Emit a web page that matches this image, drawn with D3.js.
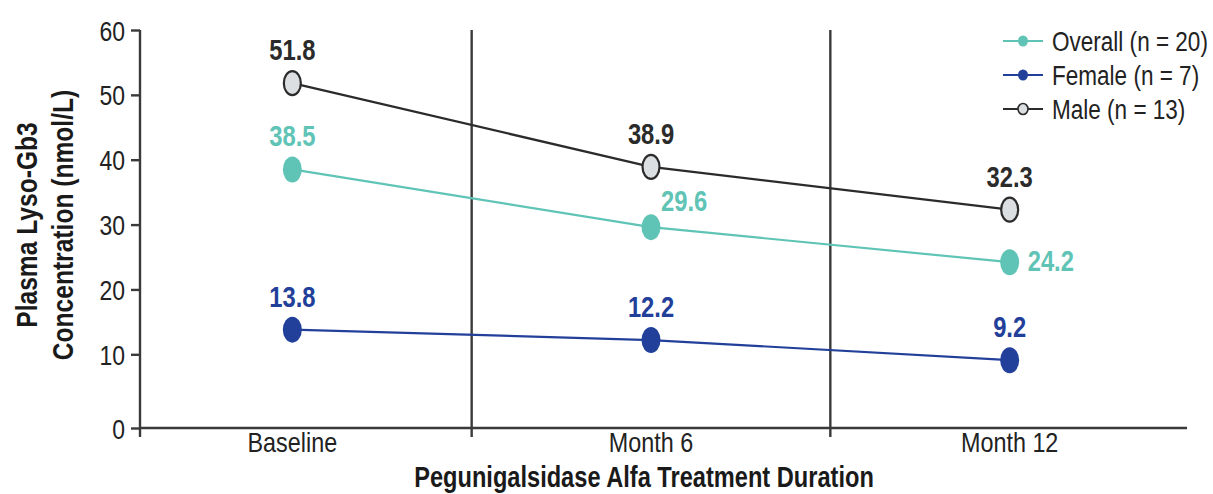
<!DOCTYPE html>
<html>
<head>
<meta charset="utf-8">
<script src="https://cdn.jsdelivr.net/npm/d3@7"></script>
<style>
  html, body { margin: 0; padding: 0; background: #fff; }
  svg { display: block; }
  text { font-family: "Liberation Sans", Arial, sans-serif; }
</style>
</head>
<body>
<svg id="chart" width="1213" height="494"></svg>
<script>
// Time points and plasma lyso-Gb3 means (nmol/L)
const categories = ["Baseline", "Month 6", "Month 12"];
const overallValues = [38.5, 29.6, 24.2];
const femaleValues = [13.8, 12.2, 9.2];
const maleValues = [51.8, 38.9, 32.3];
const seriesNames = ["Overall (n = 20)", "Female (n = 7)", "Male (n = 13)"];
const yTicks = [0, 10, 20, 30, 40, 50, 60];

const teal = "#5fc4b5";
const blue = "#22409a";
const dark = "#2b2b2b";

const series = [
  { name: seriesNames[0], values: overallValues, line: teal, fill: teal, stroke: "none", text: teal },
  { name: seriesNames[1], values: femaleValues, line: blue, fill: blue, stroke: "none", text: blue },
  { name: seriesNames[2], values: maleValues, line: dark, fill: "#dcdfe2", stroke: dark, text: dark }
];

// narrow-face look: squeeze each text horizontally around its anchor point
const NARROW = 0.82;
function condense(sel) {
  sel.each(function () {
    const t = d3.select(this);
    const tx = +t.attr("x") || 0, ty = +t.attr("y") || 0;
    const prev = t.attr("transform") || "";
    t.attr("x", 0).attr("y", 0)
      .attr("transform", `${prev} translate(${tx},${ty}) scale(${NARROW},1)`);
  });
}

const svg = d3.select("#chart");
const plotLeft = 140, plotRight = 1187, plotTop = 30, plotBottom = 428;

const x = d3.scalePoint().domain(categories).range([113, 1189]).padding(0.5);
// bottom segment of the value axis is stretched slightly below 10
const y = d3.scaleLinear().domain([0, 10, 60]).range([plotBottom, 354.3, plotTop]);

// vertical separators between time points
const mids = categories.slice(1).map((c, i) => (x(categories[i]) + x(c)) / 2);
svg.selectAll("line.sep").data(mids).join("line")
  .attr("class", "sep")
  .attr("x1", d => d).attr("x2", d => d)
  .attr("y1", plotTop).attr("y2", plotBottom + 9)
  .attr("stroke", "#3a3a3a").attr("stroke-width", 2.4);

// y axis
const yAxis = svg.append("g").attr("transform", `translate(${plotLeft},0)`)
  .call(d3.axisLeft(y).tickValues(yTicks).tickSize(9).tickPadding(6).tickFormat(d3.format("d")));
yAxis.select(".domain").remove();
yAxis.selectAll(".tick line").attr("stroke", "#3a3a3a").attr("stroke-width", 2.4);
yAxis.selectAll(".tick text").attr("fill", "#222").style("font-size", "28px")
  .attr("dy", null).attr("y", 10).call(condense);
svg.append("line").attr("x1", plotLeft).attr("x2", plotLeft).attr("y1", plotTop).attr("y2", plotBottom + 9)
  .attr("stroke", "#3a3a3a").attr("stroke-width", 2.4);

// x axis
svg.append("line").attr("x1", plotLeft).attr("x2", plotRight).attr("y1", plotBottom).attr("y2", plotBottom)
  .attr("stroke", "#3a3a3a").attr("stroke-width", 2.4);
svg.selectAll("text.xlab").data(categories).join("text")
  .attr("class", "xlab")
  .attr("x", d => x(d)).attr("y", plotBottom + 24)
  .attr("text-anchor", "middle").attr("fill", "#222")
  .style("font-size", "28.5px")
  .text(d => d)
  .call(condense);

// axis titles
svg.append("text")
  .attr("x", 644).attr("y", 487)
  .attr("text-anchor", "middle").attr("fill", "#1a1a1a")
  .style("font-size", "28.8px").style("font-weight", "bold")
  .text("Pegunigalsidase Alfa Treatment Duration")
  .call(condense);
const yt = svg.append("text")
  .attr("transform", `translate(36.5,225) rotate(-90) scale(${NARROW},1)`)
  .attr("text-anchor", "middle").attr("fill", "#1a1a1a")
  .style("font-size", "30px").style("font-weight", "bold");
yt.append("tspan").attr("x", 0).attr("dy", 0).text("Plasma Lyso-Gb3");
yt.append("tspan").attr("x", 0).attr("dy", 37).text("Concentration (nmol/L)");

// lines
const lineGen = d3.line().x((d, i) => x(categories[i])).y(d => y(d));
svg.selectAll("path.series").data(series).join("path")
  .attr("class", "series")
  .attr("d", s => lineGen(s.values))
  .attr("fill", "none")
  .attr("stroke", s => s.line)
  .attr("stroke-width", 2.2);

// markers
series.forEach(s => {
  svg.selectAll(null).data(s.values).join("ellipse")
    .attr("cx", (d, i) => x(categories[i])).attr("cy", d => y(d))
    .attr("rx", s.stroke === "none" ? 9.5 : 8.5)
    .attr("ry", s.stroke === "none" ? 13 : 12)
    .attr("fill", s.fill)
    .attr("stroke", s.stroke).attr("stroke-width", 2.2);
});

// value labels: centred above each marker, except where the Overall labels
// would collide with the Male line
function labelPos(si, i) {
  if (si === 0 && i === 1) return { dx: 10, dy: -16, anchor: "start" };
  if (si === 0 && i === 2) return { dx: 18, dy: 9, anchor: "start" };
  return { dx: 0, dy: -23, anchor: "middle" };
}
series.forEach((s, si) => {
  svg.selectAll(null).data(s.values).join("text")
    .attr("x", (d, i) => x(categories[i]) + labelPos(si, i).dx)
    .attr("y", (d, i) => y(d) + labelPos(si, i).dy)
    .attr("text-anchor", (d, i) => labelPos(si, i).anchor)
    .attr("fill", s.text)
    .style("font-size", "29px").style("font-weight", "bold")
    .text(d => d3.format(".1f")(d))
    .call(condense);
});

// legend
const legend = svg.append("g").attr("transform", "translate(1003,41)");
series.forEach((s, i) => {
  const g = legend.append("g").attr("transform", `translate(0,${i * 34})`);
  g.append("line").attr("x1", 0).attr("x2", 40).attr("y1", 0).attr("y2", 0)
    .attr("stroke", s.line).attr("stroke-width", 2.2);
  g.append("ellipse").attr("cx", 20).attr("cy", 0).attr("rx", 5).attr("ry", 5.5)
    .attr("fill", s.fill).attr("stroke", s.stroke).attr("stroke-width", 1.6);
  g.append("text").attr("x", 49).attr("y", 10)
    .attr("fill", "#222").style("font-size", "27.5px")
    .text(s.name)
    .call(condense);
});
</script>
</body>
</html>
